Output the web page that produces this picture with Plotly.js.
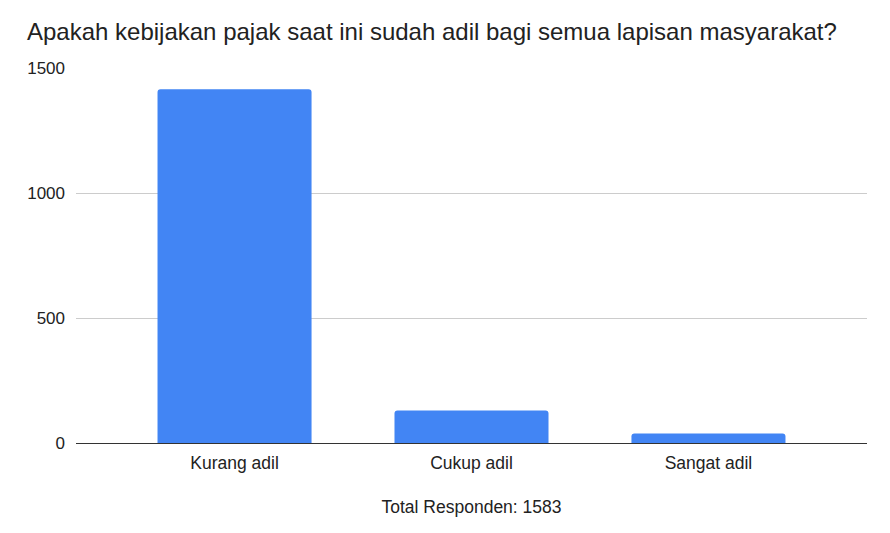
<!DOCTYPE html>
<html>
<head>
<meta charset="utf-8">
<script src="https://cdn.plot.ly/plotly-3.0.1.min.js"></script>
<style>
  html, body { margin: 0; padding: 0; background: #fff; }
  #chart { width: 890px; height: 533px; }
</style>
</head>
<body>
<div id="chart"></div>
<script>
// survey answers
var categories = ['Kurang adil', 'Cukup adil', 'Sangat adil'];
var counts = [1415, 130, 38];
var yTicks = [0, 500, 1000, 1500];
var totalLabel = 'Total Responden: 1583';

var bars = {
  type: 'bar',
  x: categories,
  y: counts,
  marker: { color: '#4285f4', cornerradius: 3 },
  hoverinfo: 'x+y'
};

var layout = {
  width: 890,
  height: 533,
  margin: { l: 76, r: 23, t: 68, b: 90 },
  paper_bgcolor: '#fff',
  plot_bgcolor: '#fff',
  font: { family: 'Liberation Sans, Arial, sans-serif', size: 17, color: '#222' },
  title: {
    text: 'Apakah kebijakan pajak saat ini sudah adil bagi semua lapisan masyarakat?',
    font: { size: 24, color: '#222' },
    x: 0, xref: 'paper', xanchor: 'left',
    y: 0.94, yanchor: 'middle',
    pad: { l: -49 }
  },
  bargap: 0.35,
  xaxis: {
    range: [-0.669, 2.669],
    showgrid: false,
    showline: true,
    linecolor: '#333',
    linewidth: 1,
    ticks: '',
    ticklabelstandoff: 4,
    tickfont: { size: 17.5, color: '#222' },
    title: { text: totalLabel, font: { size: 17.5, color: '#222' }, standoff: 28 }
  },
  yaxis: {
    range: [0, 1500],
    tickvals: yTicks,
    ticktext: yTicks.map(String),
    gridcolor: '#ccc',
    zeroline: false,
    ticks: '',
    ticklabelstandoff: 10,
    tickfont: { size: 17, color: '#222' }
  },
  showlegend: false
};

Plotly.newPlot('chart', [bars], layout, { displayModeBar: false });
</script>
</body>
</html>
